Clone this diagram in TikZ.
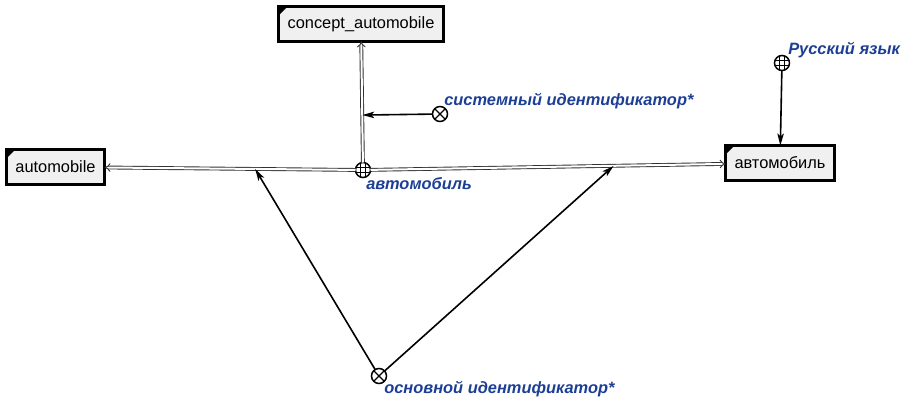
\documentclass[tikz,border=0pt]{standalone}
\usepackage{fontspec}
\setmainfont{Liberation Sans}
\usetikzlibrary{arrows.meta,positioning,calc}
\definecolor{lblblue}{RGB}{28,62,148}
\definecolor{boxgray}{RGB}{240,240,240}

\begin{document}
\begin{tikzpicture}[x=1pt,y=1pt,outer sep=0pt,node distance=2pt]
        \tikzset{concept/.style={shape=rectangle,draw,line width=3pt,fill=boxgray,minimum height=35pt,inner xsep=9pt,font=\fontsize{16.4}{18}\selectfont,
            path picture={\fill[black] (path picture bounding box.north west) -- ++(9pt,0) -- ++(-9pt,-9pt) -- cycle;}}}
        \tikzset{gridnode/.style={circle,draw,line width=1.5pt,minimum size=15pt,inner sep=0pt,fill=white,
            path picture={\draw[line width=0.8pt] (path picture bounding box.center) +(-2.6pt,-9pt) -- +(-2.6pt,9pt) +(2.6pt,-9pt) -- +(2.6pt,9pt) +(-9pt,-2.6pt) -- +(9pt,-2.6pt) +(-9pt,2.6pt) -- +(9pt,2.6pt);}}}
        \tikzset{crossnode/.style={circle,draw,line width=1.5pt,minimum size=15pt,inner sep=0pt,fill=white,
            path picture={\draw[line width=1.3pt] (path picture bounding box.north west) -- (path picture bounding box.south east) (path picture bounding box.north east) -- (path picture bounding box.south west);}}}
        \tikzset{lbl/.style={text=lblblue,font=\fontsize{16.4}{18}\selectfont\bfseries\itshape,inner sep=1pt}}
        \tikzset{pair/.style={draw=black!80,double=white,double distance=2pt,line width=0.9pt,-{Implies}}}
        \tikzset{link/.style={line width=1.6pt,-{Stealth[length=12pt,width=6.5pt,inset=3pt]}}}

        \useasboundingbox (0,0) rectangle (914,410);

        \node [concept] (conceptauto) at (361,386) {concept\_automobile};
        \node [concept] (automobile) at (55.5,243) {automobile};
        \node [concept] (avtomobil) at (780,247) {автомобиль};

        \node [gridnode] (mainnode) at (363,240) {};
        \node [lbl,below right=1pt and -3pt of mainnode] (mainlbl) {автомобиль};
        \node [crossnode] (sysid) at (440,296) {};
        \node [lbl,above right=-1pt and -2pt of sysid] (syslbl) {системный идентификатор*};
        \node [gridnode] (rulang) at (782,347) {};
        \node [lbl,above right=-1pt and 0pt of rulang] (rulbl) {Русский язык};
        \node [crossnode] (mainid) at (379,34) {};
        \node [lbl,below right=-1pt and -1pt of mainid] (mainidlbl) {основной идентификатор*};

        \draw [pair] (mainnode) -- (conceptauto);
        \draw [pair] (mainnode) -- (automobile) coordinate[pos=0.4] (lefthit);
        \draw [pair] (mainnode) -- (avtomobil) coordinate[pos=0.685] (righthit);

        \draw [link] (sysid) -- ($(mainnode)!(sysid)!(conceptauto)$);
        \draw [link] (rulang) -- (avtomobil);
        \draw [link] (mainid) -- (lefthit);
        \draw [link] (mainid) -- (righthit);
\end{tikzpicture}
\end{document}
